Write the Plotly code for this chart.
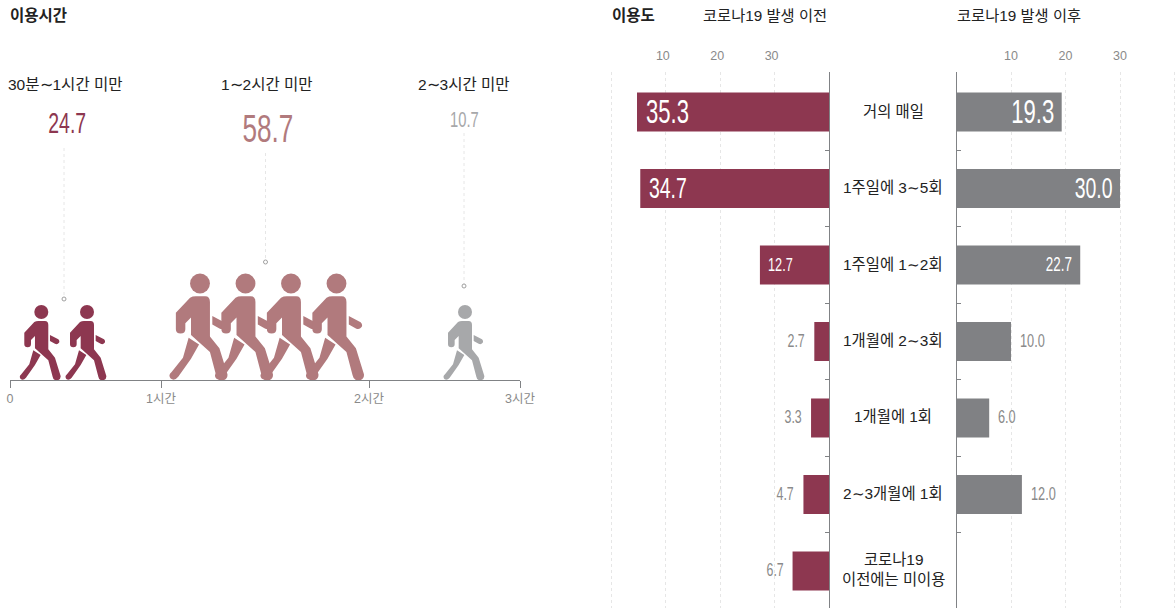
import plotly.graph_objects as go

# ---- data ----
time_bands = ["30분∼1시간 미만", "1∼2시간 미만", "2∼3시간 미만"]
time_values = [24.7, 58.7, 10.7]
time_tick_pos = [0, 151, 359, 510]
time_tick_labels = ["0", "1시간", "2시간", "3시간"]
time_colors = ["#8d3750", "#b17a7d", "#a7a8aa"]
walker_pos = [[31.3, 77], [190, 235.5, 281, 326.5], [455]]
walker_scale = [1, 1.42, 1]
leader_x = [54, 255.5, 454]
leader_top = [232, 227, 247]
leader_bottom = [81, 118, 94]
label_x = [55, 257, 454]
band_label_h = [296, 296, 296]
value_x = [56.5, 258, 454]
value_h = [257, 252, 261]
value_sizes = [29, 39, 22]

freq_labels = ["거의 매일", "1주일에 3∼5회", "1주일에 1∼2회", "1개월에 2∼3회", "1개월에 1회",
               "2∼3개월에 1회", "코로나19<br>이전에는 미이용"]
before = [35.3, 34.7, 12.7, 2.7, 3.3, 4.7, 6.7]
after = [19.3, 30.0, 22.7, 10.0, 6.0, 12.0, None]
before_inside = [True, True, True, False, False, False, False]
after_inside = [True, True, True, False, False, False, False]
before_sizes = [33, 29, 19, 18.5, 18.5, 18.5, 18.5]
after_sizes = [33, 29, 20, 19, 19, 19, 19]
grid_vals = [10, 20, 30, 40]
grid_text_before = ["30", "20", "10", ""]
grid_text_after = ["10", "20", "30", ""]
row_ticks = [0.5, 1.5, 2.5, 3.5, 4.5, 5.5]
rows = list(range(len(freq_labels)))

W, H = 1176, 608
KR = "Liberation Sans, Noto Sans CJK KR, sans-serif"
NUM = "Liberation Sans, sans-serif"
INK = "#222222"
AXIS = "#808285"
BAR_A = "#8d3750"
BAR_B = "#808184"
MUTED = "#8a8a8a"
GRID = "#e6e6e6"

fig = go.Figure()


def glyph(cx, scale):
    def p(x, y):
        return f"{cx + (x - 124) / 3 * scale:.2f},{(357 - y) / 3 * scale:.2f}"
    def seg(cmds):
        out = ""
        for c in cmds:
            if c[0] == "M":
                out += "M" + p(c[1], c[2])
            elif c[0] == "L":
                out += "L" + p(c[1], c[2])
            else:
                out += "Q" + p(c[1], c[2]) + " " + p(c[3], c[4])
        return out + "Z"
    torso = seg([("M", 115, 180), ("L", 135, 180), ("Q", 145, 180, 145, 192), ("L", 145, 265), ("L", 165, 290),
                 ("L", 182, 345), ("Q", 183, 357, 170, 358), ("Q", 160, 358, 158, 347), ("L", 145, 298),
                 ("L", 105, 262), ("L", 105, 225), ("L", 93, 237), ("L", 93, 250), ("Q", 93, 259, 83, 259),
                 ("Q", 73, 259, 73, 250), ("L", 73, 215), ("L", 103, 183), ("Q", 108, 180, 115, 180)])
    leg = seg([("M", 100, 268), ("L", 122, 282), ("L", 105, 312), ("L", 78, 350), ("Q", 70, 360, 62, 354),
               ("Q", 56, 346, 64, 340), ("L", 88, 310)])
    arm = seg([("M", 150, 222), ("L", 175, 235), ("Q", 180, 240, 177, 245), ("Q", 172, 252, 165, 248), ("L", 150, 240)])
    return torso + leg + arm, (cx, (357 - 153) / 3 * scale, 21 / 3 * scale)


shapes = []
for positions, scale, col in zip(walker_pos, walker_scale, time_colors):
    for cx in positions:
        body, (hx, hy, r) = glyph(cx, scale)
        shapes.append(dict(type="path", path=body, xref="x", yref="y", fillcolor=col, line_width=0, layer="above"))
        shapes.append(dict(type="circle", xref="x", yref="y", x0=hx - r, x1=hx + r, y0=hy - r, y1=hy + r,
                           fillcolor=col, line_width=0, layer="above"))

for lx, top, bottom in zip(leader_x, leader_top, leader_bottom):
    fig.add_trace(go.Scatter(x=[lx, lx], y=[top, bottom], mode="lines", xaxis="x", yaxis="y",
                             line=dict(color=GRID, width=1, dash="dot"), hoverinfo="skip", showlegend=False))
    fig.add_trace(go.Scatter(x=[lx], y=[bottom], mode="markers", xaxis="x", yaxis="y",
                             marker=dict(size=4, color="white", line=dict(color="#a0a0a0", width=1)),
                             hoverinfo="skip", showlegend=False))

fig.add_trace(go.Bar(y=rows, x=before, orientation="h", width=0.51, marker=dict(color=BAR_A, line_width=0),
                     xaxis="x2", yaxis="y2", hoverinfo="skip", showlegend=False))
fig.add_trace(go.Bar(y=rows, x=after, orientation="h", width=0.51, marker=dict(color=BAR_B, line_width=0),
                     xaxis="x3", yaxis="y3", hoverinfo="skip", showlegend=False))

ann = []


def text(x, y, s, size, color=INK, font=KR, xanchor="center", xref="paper", yref="paper", xshift=0, yshift=0):
    ann.append(dict(x=x, y=y, text=s, xref=xref, yref=yref, showarrow=False, xshift=xshift, yshift=yshift,
                    xanchor=xanchor, yanchor="middle", align="center",
                    font=dict(size=size, color=color, family=font)))


def px(v):
    return v / W


def py(v):
    return 1 - v / H


text(px(8), py(16), "<b>이용시간</b>", 15.5, xanchor="left")
text(px(610), py(16), "<b>이용도</b>", 15.5, xanchor="left")
text(px(764.5), py(16), "코로나19 발생 이전", 15.3)
text(px(1018.5), py(16), "코로나19 발생 이후", 15.3)

for i, band in enumerate(time_bands):
    text(label_x[i], band_label_h[i], band, 15.5, xref="x", yref="y")
    text(value_x[i], value_h[i], f"{time_values[i]:.1f}", value_sizes[i], time_colors[i], NUM, xref="x", yref="y")

for r, (lab, b, a) in enumerate(zip(freq_labels, before, after)):
    text(px(893), r, lab, 15.4, yref="y2", yshift=1)
    if before_inside[r]:
        text(b, r, f"{b:.1f}", before_sizes[r], "white", NUM, "left", "x2", "y2", xshift=6.5, yshift=1)
    else:
        text(b, r, f"{b:.1f}", before_sizes[r], MUTED, NUM, "right", "x2", "y2", xshift=-7, yshift=1)
    if a is not None:
        if after_inside[r]:
            text(a, r, f"{a:.1f}", after_sizes[r], "white", NUM, "right", "x3", "y3", xshift=-6, yshift=1)
        else:
            text(a, r, f"{a:.1f}", after_sizes[r], MUTED, NUM, "left", "x3", "y3", xshift=7, yshift=1)

top_domain = [0, (H - 72) / H]
row_range = [6.484, -0.523]
common_x = dict(side="top", tickvals=grid_vals, showgrid=True, griddash="dot", automargin=False,
                gridcolor=GRID, gridwidth=1, showline=False, zeroline=False, ticks="outside",
                tickcolor="rgba(0,0,0,0)", ticklen=6, tickfont=dict(size=12.5, color=MUTED, family=KR))
common_y = dict(domain=top_domain, range=row_range, tickvals=row_ticks, ticktext=[""] * 6, ticks="inside",
                ticklen=4, tickcolor=AXIS, tickwidth=1, showline=True, linecolor=AXIS, linewidth=1,
                showgrid=False, zeroline=False, automargin=False)

fig.update_layout(
    width=W, height=H, autosize=False, margin=dict(l=0, r=0, t=0, b=0),
    paper_bgcolor="white", plot_bgcolor="white", barmode="overlay", showlegend=False,
    shapes=shapes, annotations=ann,
    xaxis=dict(domain=[px(10), px(520)], range=[0, 510], tickvals=time_tick_pos, ticktext=time_tick_labels,
               ticks="outside", ticklen=7, tickcolor=AXIS, showline=True, linecolor=AXIS, linewidth=1,
               showgrid=False, zeroline=False, automargin=False,
               tickfont=dict(size=12.5, color=MUTED, family=KR), anchor="y"),
    yaxis=dict(domain=[(H - 380) / H, 1], range=[0, 380], visible=False, anchor="x", automargin=False),
    xaxis2=dict(domain=[px(606), px(829)], range=[41, 0], anchor="y2", ticktext=grid_text_before,
                ticklabelshift=3, **common_x),
    yaxis2=dict(anchor="x2", side="right", **common_y),
    xaxis3=dict(domain=[px(956.5), px(1176)], range=[0, 40.27], anchor="y3", ticktext=grid_text_after, **common_x),
    yaxis3=dict(anchor="x3", side="left", **common_y),
)

POST = """
document.body.style.margin = '0';
document.documentElement.style.overflow = 'hidden';
var gd = document.getElementById('{plot_id}');
var RATIO = 0.67;
gd.querySelectorAll('.annotation').forEach(function (g) {
  var t = g.querySelector('.annotation-text');
  if (!t || !/^[0-9]+\\.[0-9]$/.test(t.textContent)) return;
  var a = gd.layout.annotations[+g.getAttribute('data-index')];
  var w = t.getComputedTextLength();
  var shift = (a.xanchor === 'left' ? -1 : a.xanchor === 'right' ? 1 : 0) * w * (1 - RATIO) / 2;
  t.setAttribute('textLength', w * RATIO);
  t.setAttribute('lengthAdjust', 'spacingAndGlyphs');
  t.setAttribute('x', (+t.getAttribute('x')) + shift);
});
"""

fig.write_html("out.html", config=dict(displayModeBar=False), post_script=POST)
